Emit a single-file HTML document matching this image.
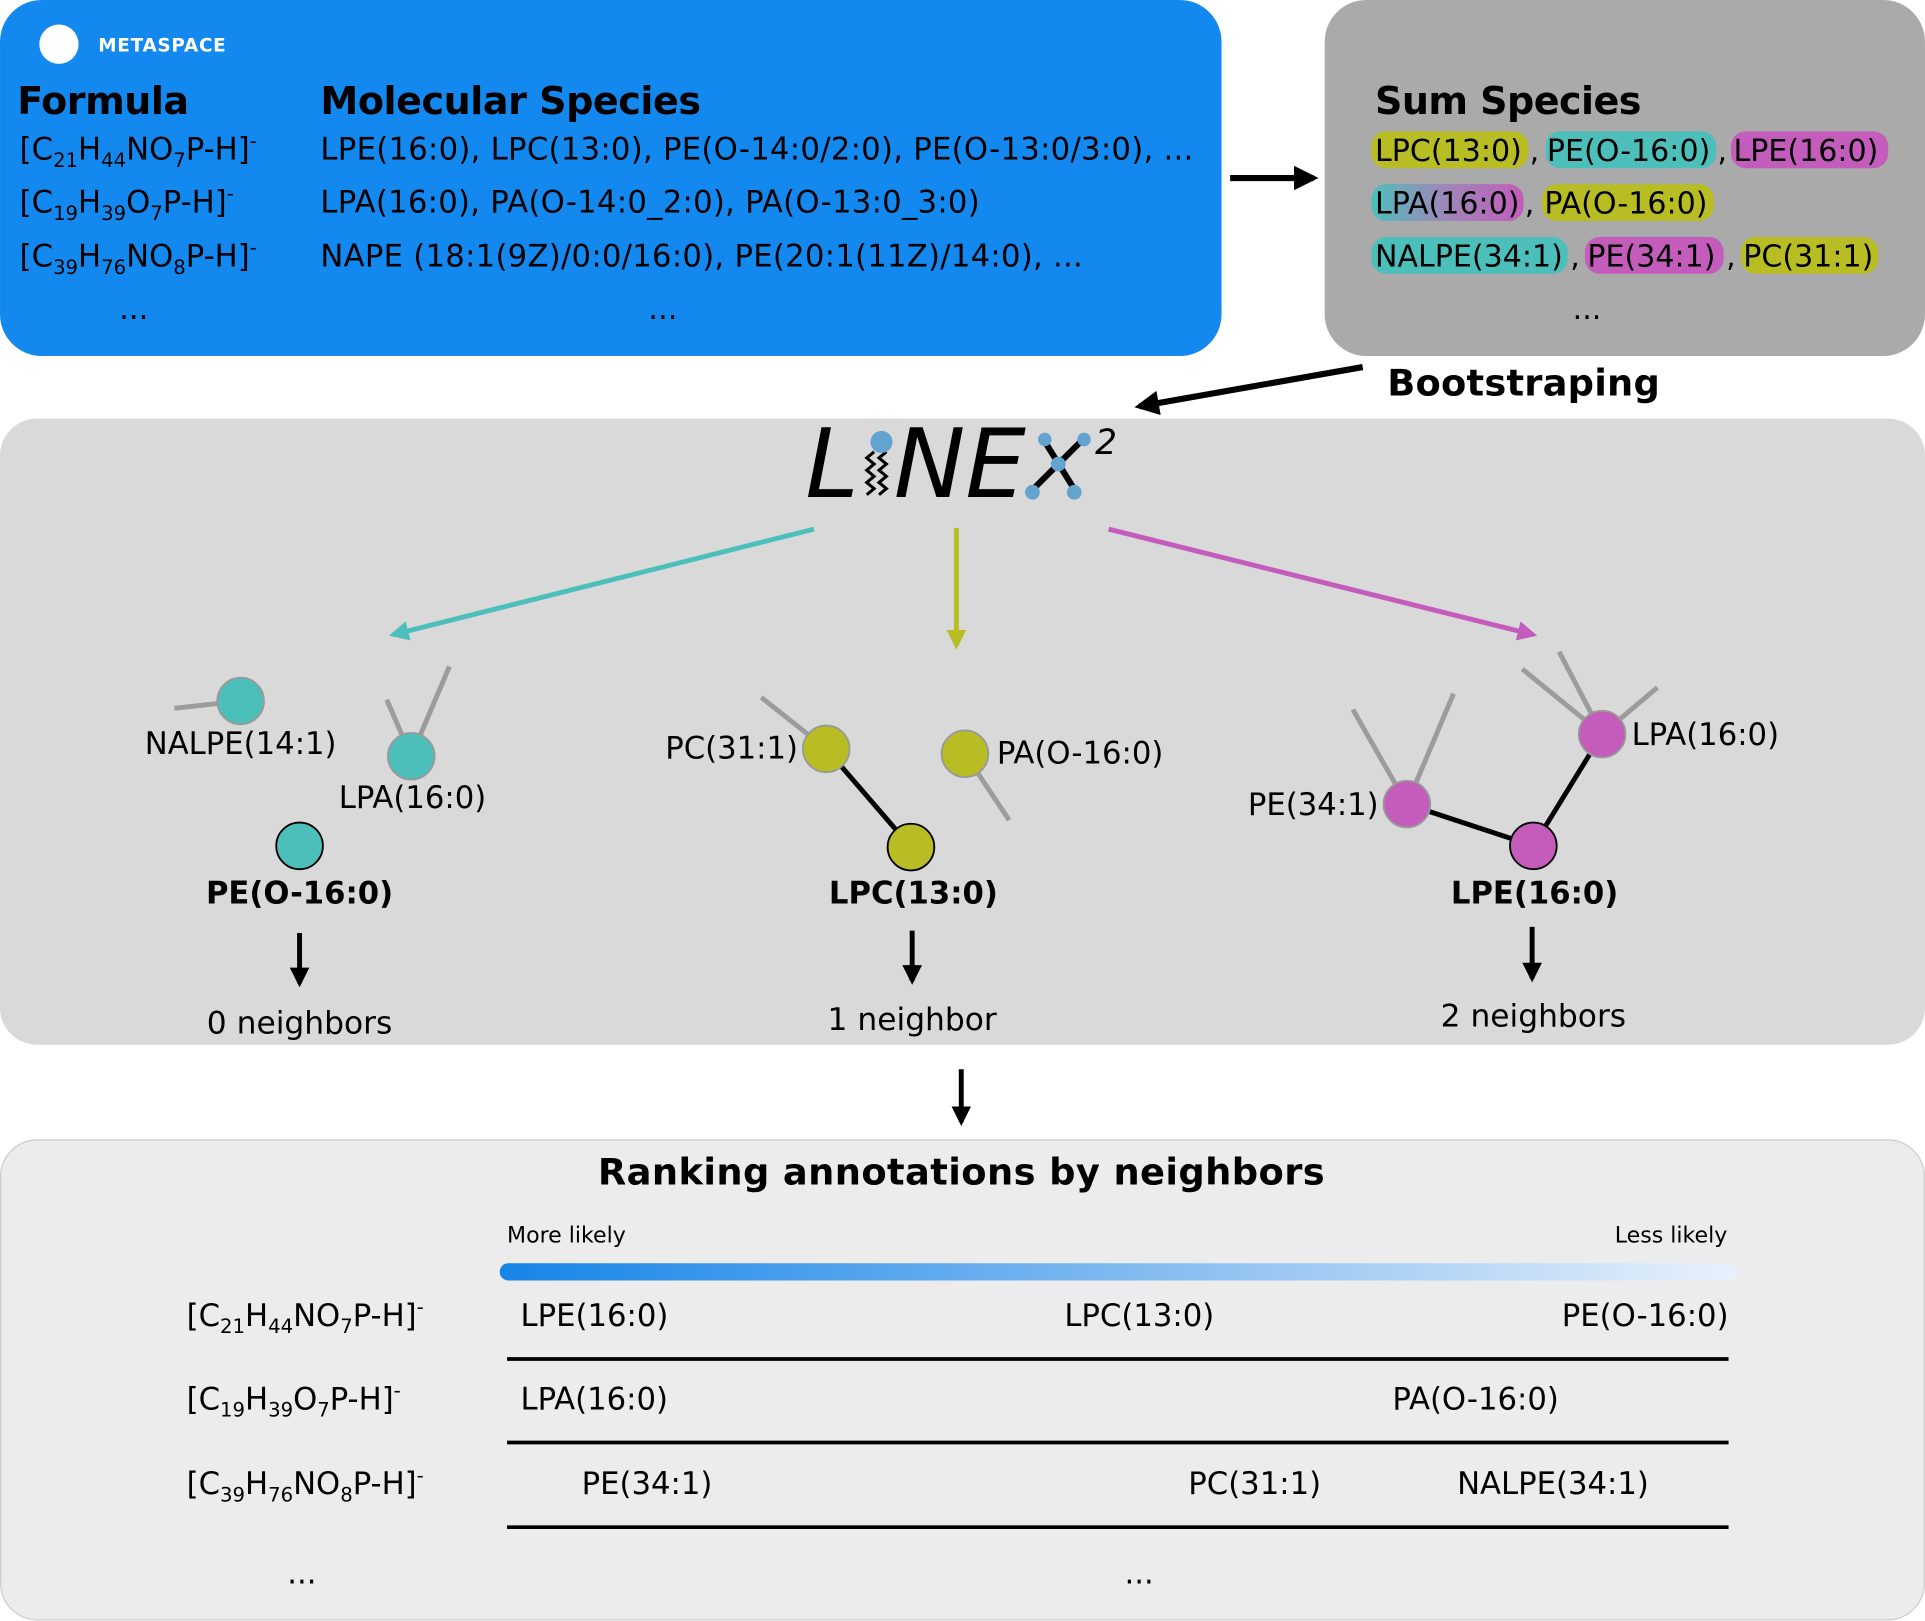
<!DOCTYPE html>
<html><head><meta charset="utf-8"><style>
html,body{margin:0;padding:0;background:#fff}
svg{display:block}
text{font-family:"DejaVu Sans","Liberation Sans",sans-serif}
</style></head><body>
<svg width="1925" height="1621" viewBox="0 0 1568 1320.4" xmlns="http://www.w3.org/2000/svg">
<defs>
<linearGradient id="lpag" x1="0" x2="1"><stop offset="0" stop-color="#4dbfbb"/><stop offset="0.45" stop-color="#9a8ab8"/><stop offset="1" stop-color="#c35cba"/></linearGradient>
<linearGradient id="rankg" x1="0" x2="1"><stop offset="0" stop-color="#1685e8"/><stop offset="0.5" stop-color="#7fb9f0"/><stop offset="1" stop-color="#e8f1fb"/></linearGradient>
<marker id="ah" viewBox="0 0 10 10" refX="8" refY="5" markerWidth="4" markerHeight="4" orient="auto"><path d="M0,0 L10,5 L0,10 z" fill="#000"/></marker>
<marker id="aht" viewBox="0 0 10 10" refX="8" refY="5" markerWidth="4" markerHeight="4" orient="auto"><path d="M0,0 L10,5 L0,10 z" fill="#4dbfbb"/></marker>
<marker id="ahy" viewBox="0 0 10 10" refX="8" refY="5" markerWidth="4" markerHeight="4" orient="auto"><path d="M0,0 L10,5 L0,10 z" fill="#b8bd24"/></marker>
<marker id="ahm" viewBox="0 0 10 10" refX="8" refY="5" markerWidth="4" markerHeight="4" orient="auto"><path d="M0,0 L10,5 L0,10 z" fill="#c35cba"/></marker>
</defs>

<g>
<rect x="0" y="0" width="995" height="290" rx="34" fill="#1388ee"/>
<circle cx="48" cy="36" r="16" fill="#fff"/>
<text x="80" y="42" font-size="15" font-weight="bold" fill="#fff" letter-spacing="0.6">METASPACE</text>
<text x="14" y="93" font-size="31" font-weight="bold" textLength="140">Formula</text>
<text x="261" y="93" font-size="31" font-weight="bold" textLength="310">Molecular Species</text>
<g font-size="25">
<text x="16" y="130">[C<tspan font-size="16" dy="6">21</tspan><tspan dy="-6">H</tspan><tspan font-size="16" dy="6">44</tspan><tspan dy="-6">NO</tspan><tspan font-size="16" dy="6">7</tspan><tspan dy="-6">P-H]</tspan><tspan font-size="16" dy="-10">-</tspan></text>
<text x="16" y="173">[C<tspan font-size="16" dy="6">19</tspan><tspan dy="-6">H</tspan><tspan font-size="16" dy="6">39</tspan><tspan dy="-6">O</tspan><tspan font-size="16" dy="6">7</tspan><tspan dy="-6">P-H]</tspan><tspan font-size="16" dy="-10">-</tspan></text>
<text x="16" y="217">[C<tspan font-size="16" dy="6">39</tspan><tspan dy="-6">H</tspan><tspan font-size="16" dy="6">76</tspan><tspan dy="-6">NO</tspan><tspan font-size="16" dy="6">8</tspan><tspan dy="-6">P-H]</tspan><tspan font-size="16" dy="-10">-</tspan></text>
<text x="97" y="260">...</text>
<text x="261" y="130" textLength="711">LPE(16:0), LPC(13:0), PE(O-14:0/2:0), PE(O-13:0/3:0), ...</text>
<text x="261" y="173" textLength="537">LPA(16:0), PA(O-14:0_2:0), PA(O-13:0_3:0)</text>
<text x="261" y="217" textLength="621">NAPE (18:1(9Z)/0:0/16:0), PE(20:1(11Z)/14:0), ...</text>
<text x="528" y="260">...</text>
</g>
</g>

<line x1="1002" y1="145" x2="1070" y2="145" stroke="#000" stroke-width="5" marker-end="url(#ah)"/>

<g>
<rect x="1079" y="0" width="489" height="290" rx="34" fill="#aaaaaa"/>
<text x="1120" y="93" font-size="31" font-weight="bold" textLength="217">Sum Species</text>
<g font-size="24.5">
<rect x="1117" y="107" width="128" height="30" rx="12" fill="#b8bd24"/>
<rect x="1259" y="107" width="139" height="30" rx="12" fill="#4dbfbb"/>
<rect x="1410" y="107" width="128" height="30" rx="12" fill="#c35cba"/>
<rect x="1117" y="150" width="124" height="30" rx="12" fill="url(#lpag)"/>
<rect x="1256" y="150" width="140" height="30" rx="12" fill="#b8bd24"/>
<rect x="1117" y="193" width="160" height="30" rx="12" fill="#4dbfbb"/>
<rect x="1291" y="193" width="113" height="30" rx="12" fill="#c35cba"/>
<rect x="1418" y="193" width="112" height="30" rx="12" fill="#b8bd24"/>
<text x="1120" y="131">LPC(13:0)<tspan x="1246">,</tspan><tspan x="1260">PE(O-16:0)</tspan><tspan x="1399">,</tspan><tspan x="1412">LPE(16:0)</tspan></text>
<text x="1120" y="174">LPA(16:0)<tspan x="1242">,</tspan><tspan x="1258">PA(O-16:0)</tspan></text>
<text x="1120" y="217">NALPE(34:1)<tspan x="1279">,</tspan><tspan x="1293">PE(34:1)</tspan><tspan x="1406">,</tspan><tspan x="1420">PC(31:1)</tspan></text>
<text x="1281" y="260">...</text>
</g>
</g>

<line x1="1110" y1="299" x2="928" y2="331" stroke="#000" stroke-width="5" marker-end="url(#ah)"/>
<text x="1130" y="322" font-size="30" font-weight="bold" textLength="222">Bootstraping</text>

<g>
<rect x="0" y="341" width="1568" height="510" rx="30" fill="#d9d9d9"/>
<g>
<text x="656" y="405" font-size="78" font-style="italic">L</text>
<text x="728" y="405" font-size="78" font-style="italic">NE</text>
<path d="M712,368 l-6,5 6,5 -6,5 6,5 -6,5 6,5 -6,5 M722,368 l-6,5 6,5 -6,5 6,5 -6,5 6,5 -6,5" stroke="#000" stroke-width="2.5" fill="none"/>
<circle cx="718" cy="360" r="9" fill="#62a4cf"/>
<line x1="850" y1="358" x2="876" y2="400" stroke="#000" stroke-width="5"/>
<line x1="882" y1="358" x2="840" y2="400" stroke="#000" stroke-width="5"/>
<g fill="#62a4cf"><circle cx="851" cy="358" r="5.5"/><circle cx="883" cy="358" r="5.5"/><circle cx="862" cy="378" r="6"/><circle cx="841" cy="401" r="6"/><circle cx="875" cy="401" r="6"/></g>
<text x="892" y="370" font-size="28" font-style="italic">2</text>
</g>
<line x1="663" y1="431" x2="320" y2="517" stroke="#4dbfbb" stroke-width="4" marker-end="url(#aht)"/>
<line x1="779" y1="430" x2="779" y2="526" stroke="#b8bd24" stroke-width="4" marker-end="url(#ahy)"/>
<line x1="903" y1="431" x2="1249" y2="517" stroke="#c35cba" stroke-width="4" marker-end="url(#ahm)"/>

<g stroke="#888" stroke-width="4" opacity="0.75">
<line x1="142" y1="577" x2="196" y2="571"/><line x1="315" y1="570" x2="335" y2="616"/><line x1="366" y1="543" x2="335" y2="616"/>
<line x1="620" y1="568" x2="673" y2="610"/><line x1="822" y1="668" x2="786" y2="614"/>
<line x1="1102" y1="578" x2="1146" y2="655"/><line x1="1184" y1="565" x2="1146" y2="655"/>
<line x1="1240" y1="545" x2="1305" y2="598"/><line x1="1270" y1="531" x2="1305" y2="598"/><line x1="1350" y1="560" x2="1305" y2="598"/>
</g>
<g stroke="#000" stroke-width="4">
<line x1="673" y1="610" x2="742" y2="690"/><line x1="1146" y1="655" x2="1249" y2="689"/><line x1="1305" y1="598" x2="1249" y2="689"/>
</g>
<g stroke="#999" stroke-width="1.5">
<circle cx="196" cy="571" r="19" fill="#4dbfbb"/>
<circle cx="335" cy="616" r="19" fill="#4dbfbb"/>
<circle cx="673" cy="610" r="19" fill="#b8bd24"/>
<circle cx="786" cy="614" r="19" fill="#b8bd24"/>
<circle cx="1146" cy="655" r="19" fill="#c35cba"/>
<circle cx="1305" cy="598" r="19" fill="#c35cba"/>
</g>
<g stroke="#000" stroke-width="1.5">
<circle cx="244" cy="689" r="19" fill="#4dbfbb"/>
<circle cx="742" cy="690" r="19" fill="#b8bd24"/>
<circle cx="1249" cy="689" r="19" fill="#c35cba"/>
</g>
<g font-size="25">
<text x="196" y="614" text-anchor="middle">NALPE(14:1)</text>
<text x="336" y="658" text-anchor="middle">LPA(16:0)</text>
<text x="244" y="736" text-anchor="middle" font-weight="bold">PE(O-16:0)</text>
<text x="650" y="618" text-anchor="end">PC(31:1)</text>
<text x="812" y="622">PA(O-16:0)</text>
<text x="744" y="736" text-anchor="middle" font-weight="bold">LPC(13:0)</text>
<text x="1123" y="664" text-anchor="end">PE(34:1)</text>
<text x="1329" y="607">LPA(16:0)</text>
<text x="1250" y="736" text-anchor="middle" font-weight="bold">LPE(16:0)</text>
</g>
<g stroke="#000" stroke-width="4">
<line x1="244" y1="760" x2="244" y2="801" marker-end="url(#ah)"/>
<line x1="743" y1="758" x2="743" y2="799" marker-end="url(#ah)"/>
<line x1="1248" y1="755" x2="1248" y2="797" marker-end="url(#ah)"/>
</g>
<g font-size="25.5" text-anchor="middle">
<text x="244" y="842">0 neighbors</text>
<text x="743" y="839">1 neighbor</text>
<text x="1249" y="836">2 neighbors</text>
</g>
</g>

<line x1="783" y1="871" x2="783" y2="914" stroke="#000" stroke-width="4" marker-end="url(#ah)"/>

<g>
<rect x="0.5" y="928.5" width="1567" height="391" rx="30" fill="#ececec" stroke="#cccccc"/>
<text x="783" y="965" font-size="30" font-weight="bold" text-anchor="middle" textLength="592">Ranking annotations by neighbors</text>
<text x="413" y="1012" font-size="18">More likely</text>
<text x="1407" y="1012" font-size="18" text-anchor="end">Less likely</text>
<rect x="407" y="1029" width="1008" height="14" rx="7" fill="url(#rankg)"/>
<g font-size="25">
<text x="152" y="1080">[C<tspan font-size="16" dy="6">21</tspan><tspan dy="-6">H</tspan><tspan font-size="16" dy="6">44</tspan><tspan dy="-6">NO</tspan><tspan font-size="16" dy="6">7</tspan><tspan dy="-6">P-H]</tspan><tspan font-size="16" dy="-10">-</tspan></text>
<text x="152" y="1148">[C<tspan font-size="16" dy="6">19</tspan><tspan dy="-6">H</tspan><tspan font-size="16" dy="6">39</tspan><tspan dy="-6">O</tspan><tspan font-size="16" dy="6">7</tspan><tspan dy="-6">P-H]</tspan><tspan font-size="16" dy="-10">-</tspan></text>
<text x="152" y="1217">[C<tspan font-size="16" dy="6">39</tspan><tspan dy="-6">H</tspan><tspan font-size="16" dy="6">76</tspan><tspan dy="-6">NO</tspan><tspan font-size="16" dy="6">8</tspan><tspan dy="-6">P-H]</tspan><tspan font-size="16" dy="-10">-</tspan></text>
<text x="234" y="1290">...</text>
<text x="424" y="1080">LPE(16:0)</text>
<text x="928" y="1080" text-anchor="middle">LPC(13:0)</text>
<text x="1408" y="1080" text-anchor="end">PE(O-16:0)</text>
<text x="424" y="1148">LPA(16:0)</text>
<text x="1202" y="1148" text-anchor="middle">PA(O-16:0)</text>
<text x="527" y="1217" text-anchor="middle">PE(34:1)</text>
<text x="1022" y="1217" text-anchor="middle">PC(31:1)</text>
<text x="1265" y="1217" text-anchor="middle">NALPE(34:1)</text>
<text x="916" y="1290">...</text>
</g>
<g stroke="#000" stroke-width="3">
<line x1="413" y1="1107" x2="1408" y2="1107"/><line x1="413" y1="1175" x2="1408" y2="1175"/><line x1="413" y1="1244" x2="1408" y2="1244"/>
</g>
</g>
</svg>
</body></html>
